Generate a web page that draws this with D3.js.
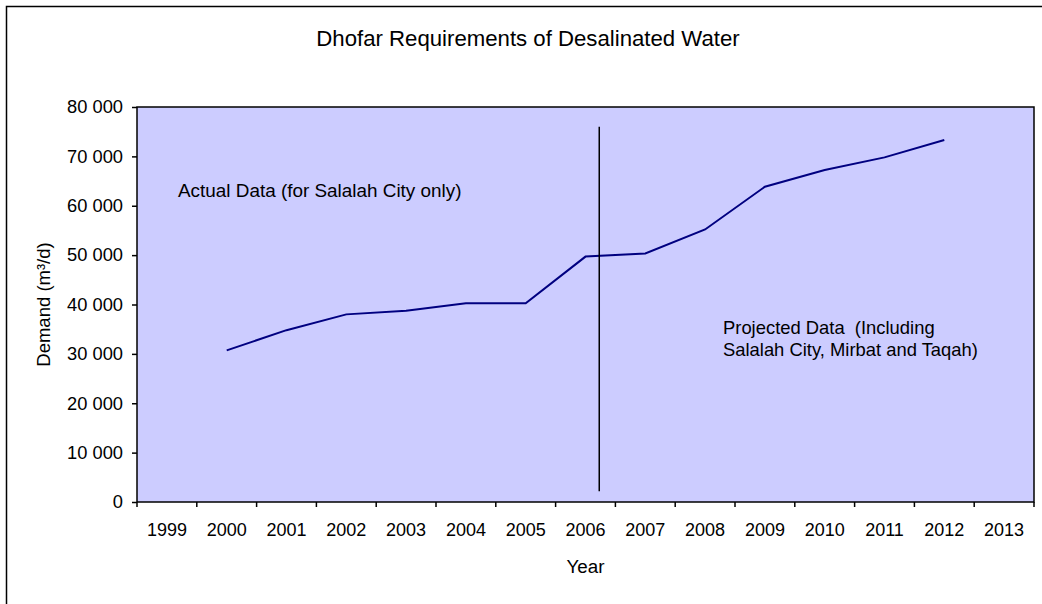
<!DOCTYPE html>
<html>
<head>
<meta charset="utf-8">
<script src="https://cdn.jsdelivr.net/npm/d3@7"></script>
<style>
    body { margin: 0; background: #fff; }
    text { font-family: "Liberation Sans", Arial, sans-serif; fill: #000; }
</style>
</head>
<body>
<div id="chart"></div>
<script>
var years = ['1999', '2000', '2001', '2002', '2003', '2004', '2005', '2006',
    '2007', '2008', '2009', '2010', '2011', '2012', '2013']
var demandYears = ['2000', '2001', '2002', '2003', '2004', '2005', '2006',
    '2007', '2008', '2009', '2010', '2011', '2012']
var demand = [30700, 34800, 38000, 38750, 40250, 40250, 49700,
    50350, 55200, 63850, 67250, 69800, 73300]
var yTicks = [0, 10000, 20000, 30000, 40000, 50000, 60000, 70000, 80000]
// divider between actual and projected data (category position, value range)
var dividerPos = 7.73
var dividerRange = [2200, 76000]

function lineChart(selector) {
    /* render line chart */
    var W = 1042, H = 604
    var margin = { top: 107, right: 8, bottom: 102, left: 137 },
        width = W - margin.left - margin.right,
        height = H - margin.top - margin.bottom;

    var svg = d3.select(selector).append('svg')
        .attr('width', W)
        .attr('height', H)

    // outer chart frame
    svg.append('rect')
        .attr('x', 6.5).attr('y', 6.5)
        .attr('width', 1200).attr('height', 1000)
        .attr('fill', 'none')
        .attr('stroke', '#000')
        .attr('stroke-width', 1.5)

    svg.append('text')
        .attr('x', 528).attr('y', 45.5)
        .attr('text-anchor', 'middle')
        .attr('font-size', '22.2px')
        .text('Dhofar Requirements of Desalinated Water')

    var g = svg.append('g')
        .attr('transform', 'translate(' + margin.left + ',' + margin.top + ')')

    var x = d3.scaleBand().domain(years).range([0, width]).padding(0)
    var y = d3.scaleLinear().domain([0, 80000]).range([height, 0])
    var bw = x.bandwidth()

    g.append('rect')
        .attr('width', width)
        .attr('height', height)
        .attr('fill', '#ccccff')

    var fmt = d3.formatLocale({ decimal: '.', thousands: ' ', grouping: [3], currency: ['', ''] }).format(',')

    var yAxis = g.append('g')
        .call(d3.axisLeft(y).tickValues(yTicks).tickSize(5).tickPadding(9).tickFormat(fmt))
    yAxis.select('.domain').remove()
    yAxis.selectAll('text').attr('font-size', '18.3px').attr('font-family', null)
    yAxis.selectAll('line').attr('stroke', '#000').attr('stroke-width', 1.5)

    var xAxis = g.append('g')
        .attr('transform', 'translate(0,' + height + ')')
        .call(d3.axisBottom(x).tickSize(0).tickPadding(21.5))
    xAxis.select('.domain').remove()
    xAxis.selectAll('text').attr('font-size', '18px').attr('font-family', null)

    // ticks sit on the category boundaries
    g.selectAll('.xtick')
        .data(years.concat(['end']))
        .enter()
        .append('line')
        .attr('class', 'xtick')
        .attr('x1', function (d) { return d === 'end' ? width : x(d) })
        .attr('x2', function (d) { return d === 'end' ? width : x(d) })
        .attr('y1', height)
        .attr('y2', height + 5)
        .attr('stroke', '#000')
        .attr('stroke-width', 1.5)

    g.append('rect')
        .attr('width', width)
        .attr('height', height)
        .attr('fill', 'none')
        .attr('stroke', '#000')
        .attr('stroke-width', 1.5)

    var line = d3.line()
        .x(function (d, i) { return x(demandYears[i]) + bw / 2 })
        .y(function (d) { return y(d) })

    g.append('path')
        .datum(demand)
        .attr('d', line)
        .attr('fill', 'none')
        .attr('stroke', '#000080')
        .attr('stroke-width', 2)

    g.append('line')
        .attr('x1', dividerPos * bw).attr('x2', dividerPos * bw)
        .attr('y1', y(dividerRange[0])).attr('y2', y(dividerRange[1]))
        .attr('stroke', '#000')
        .attr('stroke-width', 1.5)

    g.append('text')
        .attr('x', 41).attr('y', 90)
        .attr('font-size', '18.9px')
        .text('Actual Data (for Salalah City only)')

    var proj = g.append('text')
        .attr('font-size', '18.4px')
        .attr('xml:space', 'preserve')
        .style('white-space', 'pre')
    proj.append('tspan').attr('x', 586).attr('y', 226.5).text('Projected Data  (Including')
    proj.append('tspan').attr('x', 586).attr('y', 249.3).text('Salalah City, Mirbat and Taqah)')

    svg.append('text')
        .attr('x', margin.left + width / 2).attr('y', 573)
        .attr('text-anchor', 'middle')
        .attr('font-size', '18.8px')
        .text('Year')

    svg.append('text')
        .attr('transform', 'translate(50,' + (margin.top + height / 2) + ') rotate(-90)')
        .attr('text-anchor', 'middle')
        .attr('font-size', '18.5px')
        .text('Demand (m³/d)')
}

lineChart('#chart')
</script>
</body>
</html>
